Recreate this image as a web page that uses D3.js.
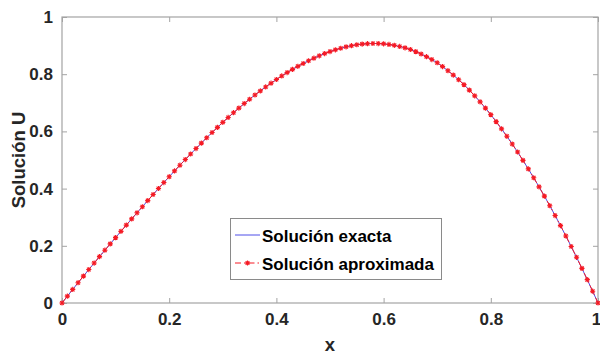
<!DOCTYPE html>
<html>
<head>
<meta charset="utf-8">
<script src="https://cdn.jsdelivr.net/npm/d3@7"></script>
<style>
  html, body { margin: 0; padding: 0; background: #ffffff; }
  svg { display: block; font-family: "Liberation Sans", Arial, Helvetica, sans-serif; }
</style>
</head>
<body>
<svg id="chart" width="600" height="356"></svg>
<script>
// ---------- data ----------
const xValues = [
  0.00,0.01,0.02,0.03,0.04,0.05,0.06,0.07,0.08,0.09,
  0.10,0.11,0.12,0.13,0.14,0.15,0.16,0.17,0.18,0.19,
  0.20,0.21,0.22,0.23,0.24,0.25,0.26,0.27,0.28,0.29,
  0.30,0.31,0.32,0.33,0.34,0.35,0.36,0.37,0.38,0.39,
  0.40,0.41,0.42,0.43,0.44,0.45,0.46,0.47,0.48,0.49,
  0.50,0.51,0.52,0.53,0.54,0.55,0.56,0.57,0.58,0.59,
  0.60,0.61,0.62,0.63,0.64,0.65,0.66,0.67,0.68,0.69,
  0.70,0.71,0.72,0.73,0.74,0.75,0.76,0.77,0.78,0.79,
  0.80,0.81,0.82,0.83,0.84,0.85,0.86,0.87,0.88,0.89,
  0.90,0.91,0.92,0.93,0.94,0.95,0.96,0.97,0.98,0.99,
  1.00
];
const uExacta = [
  0.0000,0.0239,0.0475,0.0709,0.0940,0.1169,0.1396,0.1622,0.1846,0.2067,
  0.2286,0.2506,0.2724,0.2941,0.3154,0.3366,0.3580,0.3793,0.4003,0.4211,
  0.4416,0.4619,0.4819,0.5015,0.5209,0.5400,0.5590,0.5778,0.5961,0.6141,
  0.6317,0.6487,0.6653,0.6815,0.6973,0.7125,0.7273,0.7416,0.7554,0.7687,
  0.7814,0.7938,0.8056,0.8169,0.8275,0.8375,0.8471,0.8561,0.8644,0.8721,
  0.8790,0.8852,0.8908,0.8956,0.8996,0.9029,0.9052,0.9067,0.9074,0.9072,
  0.9062,0.9040,0.9009,0.8970,0.8921,0.8863,0.8789,0.8706,0.8613,0.8512,
  0.8400,0.8266,0.8122,0.7969,0.7807,0.7635,0.7443,0.7243,0.7033,0.6814,
  0.6586,0.6342,0.6089,0.5828,0.5558,0.5279,0.4987,0.4688,0.4379,0.4062,
  0.3737,0.3402,0.3058,0.2706,0.2345,0.1976,0.1598,0.1211,0.0816,0.0412,
  0.0000
];
const uAproximada = [
  0.0000,0.0239,0.0475,0.0709,0.0940,0.1169,0.1396,0.1622,0.1846,0.2067,
  0.2286,0.2506,0.2724,0.2941,0.3154,0.3366,0.3580,0.3793,0.4003,0.4211,
  0.4416,0.4619,0.4819,0.5015,0.5209,0.5400,0.5590,0.5778,0.5961,0.6141,
  0.6317,0.6487,0.6653,0.6815,0.6973,0.7125,0.7273,0.7416,0.7554,0.7687,
  0.7814,0.7938,0.8056,0.8169,0.8275,0.8375,0.8471,0.8561,0.8644,0.8721,
  0.8790,0.8852,0.8908,0.8956,0.8996,0.9029,0.9052,0.9067,0.9074,0.9072,
  0.9062,0.9040,0.9009,0.8970,0.8921,0.8863,0.8789,0.8706,0.8613,0.8512,
  0.8400,0.8266,0.8122,0.7969,0.7807,0.7635,0.7443,0.7243,0.7033,0.6814,
  0.6586,0.6342,0.6089,0.5828,0.5558,0.5279,0.4987,0.4688,0.4379,0.4062,
  0.3737,0.3402,0.3058,0.2706,0.2345,0.1976,0.1598,0.1211,0.0816,0.0412,
  0.0000
];
const xTicks = [0, 0.2, 0.4, 0.6, 0.8, 1];
const yTicks = [0, 0.2, 0.4, 0.6, 0.8, 1];
const xTickLabels = ["0", "0.2", "0.4", "0.6", "0.8", "1"];
const yTickLabels = ["0", "0.2", "0.4", "0.6", "0.8", "1"];
const seriesNames = ["Solución exacta", "Solución aproximada"];
const xLabel = "x";
const yLabel = "Solución U";

// ---------- layout ----------
const svg = d3.select("#chart");
const L = 62, R = 598, T = 17, B = 303;
const x = d3.scaleLinear().domain([0, 1]).range([L, R]);
const y = d3.scaleLinear().domain([0, 1]).range([B, T]);
const axisColor = "#a3a3a3";
const textColor = "#262626";
const blue = "#4f4fe8";
const red = "#f51a24";

// axes box
svg.append("rect")
  .attr("x", L).attr("y", T).attr("width", R - L).attr("height", B - T)
  .attr("fill", "none").attr("stroke", axisColor).attr("stroke-width", 1.2);

function styleAxis(g) {
  g.select(".domain").remove();
  g.selectAll(".tick line").attr("stroke", axisColor).attr("stroke-width", 1);
  g.selectAll(".tick text")
    .attr("fill", textColor)
    .attr("font-size", 17)
    .attr("font-weight", "bold")
    .attr("font-family", "'Liberation Sans', Arial, sans-serif");
}

// bottom axis with labels
const bottomAxis = svg.append("g").attr("transform", `translate(0,${B})`)
  .call(d3.axisBottom(x).tickValues(xTicks).tickFormat((d, i) => xTickLabels[i])
    .tickSizeInner(-5).tickSizeOuter(0).tickPadding(10))
  .call(styleAxis);
// keep the last label inside the window edge
bottomAxis.selectAll(".tick text").filter(d => d === 1).attr("dx", -2);

// top axis ticks
svg.append("g").attr("transform", `translate(0,${T})`)
  .call(d3.axisTop(x).tickValues(xTicks).tickFormat("").tickSizeInner(-5).tickSizeOuter(0))
  .call(styleAxis);
// left axis with labels
svg.append("g").attr("transform", `translate(${L},0)`)
  .call(d3.axisLeft(y).tickValues(yTicks).tickFormat((d, i) => yTickLabels[i])
    .tickSizeInner(-5).tickSizeOuter(0).tickPadding(9))
  .call(styleAxis);
// right axis ticks
svg.append("g").attr("transform", `translate(${R},0)`)
  .call(d3.axisRight(y).tickValues(yTicks).tickFormat("").tickSizeInner(-5).tickSizeOuter(0))
  .call(styleAxis);

// axis labels
svg.append("text")
  .attr("x", (L + R) / 2).attr("y", 351)
  .attr("text-anchor", "middle")
  .attr("font-size", 18.5).attr("font-weight", "bold").attr("fill", textColor)
  .text(xLabel);
svg.append("text")
  .attr("transform", `translate(25,${(T + B) / 2}) rotate(-90)`)
  .attr("text-anchor", "middle")
  .attr("font-size", 18.5).attr("font-weight", "bold").attr("fill", textColor)
  .text(yLabel);

// ---------- series ----------
const exactData = xValues.map((xv, i) => [xv, uExacta[i]]);
const approxData = xValues.map((xv, i) => [xv, uAproximada[i]]);
const line = d3.line().x(d => x(d[0])).y(d => y(d[1]));

svg.append("path").datum(exactData)
  .attr("d", line).attr("fill", "none")
  .attr("stroke", blue).attr("stroke-width", 1);

svg.append("path").datum(approxData)
  .attr("d", line).attr("fill", "none")
  .attr("stroke", red).attr("stroke-width", 1)
  .attr("stroke-dasharray", "6,3,1.5,3");

function starPath(r) {
  const d = r * 0.72;
  return `M${-r},0L${r},0M0,${-r}L0,${r}M${-d},${-d}L${d},${d}M${-d},${d}L${d},${-d}`;
}
svg.append("g").selectAll("path.star").data(approxData).join("path")
  .attr("class", "star")
  .attr("transform", d => `translate(${x(d[0])},${y(d[1])})`)
  .attr("d", starPath(2.6))
  .attr("fill", "none").attr("stroke", red).attr("stroke-width", 1.1);

// ---------- legend ----------
const lg = svg.append("g");
lg.append("rect")
  .attr("x", 230.5).attr("y", 218.5).attr("width", 211).attr("height", 61)
  .attr("fill", "#ffffff").attr("stroke", "#8a8a8a").attr("stroke-width", 1);
// exact entry
lg.append("line").attr("x1", 235).attr("x2", 260).attr("y1", 235).attr("y2", 235)
  .attr("stroke", blue).attr("stroke-width", 1);
lg.append("text").attr("x", 262).attr("y", 241.5)
  .attr("font-size", 17).attr("font-weight", "bold").attr("fill", "#000")
  .text(seriesNames[0]);
// approx entry
lg.append("line").attr("x1", 235).attr("x2", 260).attr("y1", 263).attr("y2", 263)
  .attr("stroke", red).attr("stroke-width", 1).attr("stroke-dasharray", "6,3,1.5,3");
lg.append("path").attr("transform", "translate(247.5,263)").attr("d", starPath(2.6))
  .attr("fill", "none").attr("stroke", red).attr("stroke-width", 1.1);
lg.append("text").attr("x", 262).attr("y", 270)
  .attr("font-size", 17).attr("font-weight", "bold").attr("fill", "#000")
  .text(seriesNames[1]);
</script>
</body>
</html>
